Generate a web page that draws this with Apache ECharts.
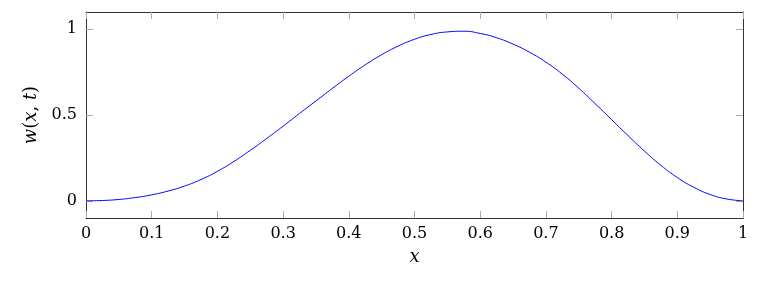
<!DOCTYPE html>
<html>
<head>
<meta charset="utf-8">
<script src="https://cdn.jsdelivr.net/npm/echarts@6/dist/echarts.min.js"></script>
<style>
  html, body { margin: 0; padding: 0; background: #fff; }
  #main { width: 767px; height: 281px; }
</style>
</head>
<body>
<div id="main"></div>
<script>
const xValues = [0, 0.025, 0.05, 0.075, 0.1, 0.125, 0.15, 0.175, 0.2, 0.225, 0.25, 0.275, 0.3, 0.325, 0.35, 0.375, 0.4, 0.425, 0.45, 0.475, 0.5,
  0.525, 0.55, 0.575, 0.6, 0.625, 0.65, 0.675, 0.7, 0.725, 0.75, 0.775, 0.8, 0.825, 0.85, 0.875, 0.9, 0.925, 0.95, 0.975, 1];
const wValues = [0, 0.002, 0.008, 0.019, 0.035, 0.057, 0.086, 0.124, 0.172, 0.229, 0.294, 0.363, 0.435, 0.509, 0.582, 0.655, 0.726, 0.792, 0.851, 0.901, 0.941,
  0.969, 0.984, 0.988, 0.975, 0.950, 0.913, 0.866, 0.808, 0.738, 0.656, 0.566, 0.473, 0.380, 0.290, 0.207, 0.136, 0.079, 0.037, 0.011, 0];
const xTickLabels = ["0", "0.1", "0.2", "0.3", "0.4", "0.5", "0.6", "0.7", "0.8", "0.9", "1"];
const yTickValues = [0, 0.5, 1];
const yTickLabels = ["0", "0.5", "1"];

const chart = echarts.init(document.getElementById("main"), null, { renderer: "canvas" });

const font = "DejaVu Serif";
const frame = { show: true, onZero: false, lineStyle: { color: "#333", width: 1 } };
const tick = { show: true, inside: true, length: 7, lineStyle: { color: "#aaa", width: 1 } };

const option = {
  animation: false,
  grid: { left: 86, right: 24, top: 12, bottom: 63 },
  xAxis: [
    {
      type: "value",
      min: 0,
      max: 1,
      interval: 0.1,
      name: "x",
      nameLocation: "middle",
      nameGap: 30,
      nameTextStyle: { fontFamily: font, fontSize: 18, fontStyle: "italic", color: "#000" },
      axisLine: frame,
      axisTick: tick,
      splitLine: { show: false },
      axisLabel: {
        margin: 8,
        fontFamily: font,
        fontSize: 16,
        color: "#000",
        formatter: (v) => xTickLabels[Math.round(v * 10)],
      },
    },
    {
      type: "value",
      position: "top",
      min: 0,
      max: 1,
      interval: 0.1,
      axisLine: frame,
      axisTick: tick,
      splitLine: { show: false },
      axisLabel: { show: false },
    },
  ],
  yAxis: [
    {
      type: "value",
      min: -0.1,
      max: 1.1,
      name: "{i|w}({i|x}, {i|t})",
      nameLocation: "middle",
      nameGap: 44,
      nameTextStyle: {
        fontFamily: font,
        fontSize: 18,
        color: "#000",
        rich: { i: { fontFamily: font, fontSize: 18, fontStyle: "italic", color: "#000" } },
      },
      axisLine: frame,
      axisTick: Object.assign({}, tick, { customValues: yTickValues }),
      splitLine: { show: false },
      axisLabel: {
        margin: 9,
        fontFamily: font,
        fontSize: 16,
        color: "#000",
        customValues: yTickValues,
        formatter: (v) => yTickLabels[Math.round(v * 2)],
      },
    },
    {
      type: "value",
      position: "right",
      min: -0.1,
      max: 1.1,
      axisLine: frame,
      axisTick: Object.assign({}, tick, { customValues: yTickValues }),
      splitLine: { show: false },
      axisLabel: { show: false },
    },
  ],
  series: [
    {
      type: "line",
      data: xValues.map((x, i) => [x, wValues[i]]),
      smooth: true,
      showSymbol: false,
      lineStyle: { color: "#0000ff", width: 1 },
    },
  ],
};

chart.setOption(option);
</script>
</body>
</html>
